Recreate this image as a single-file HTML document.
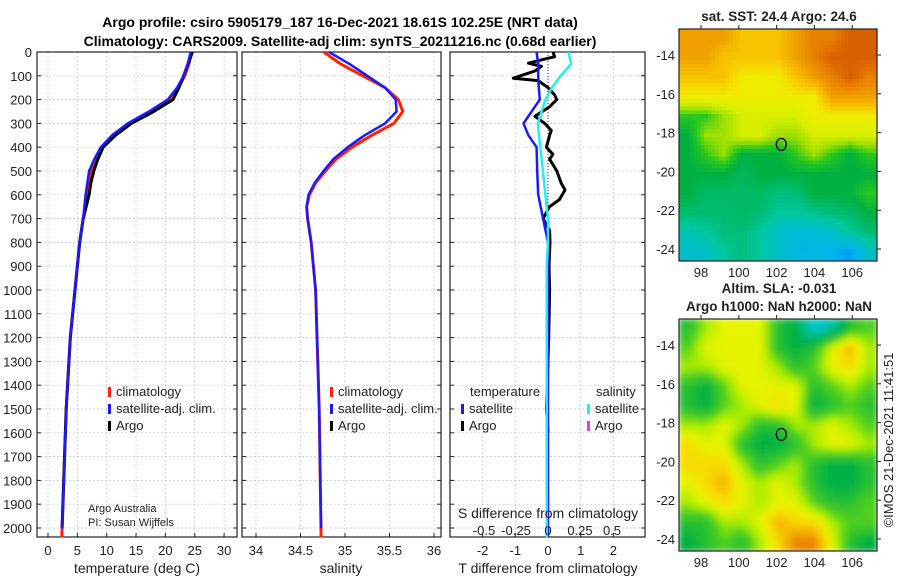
<!DOCTYPE html>
<html><head><meta charset="utf-8"><style>
body{margin:0;background:#fff}
svg{font-family:"Liberation Sans","DejaVu Sans",sans-serif;display:block}
</style></head><body>
<svg id="c" width="900" height="580" viewBox="0 0 900 580">
<text x="340" y="27" text-anchor="middle" font-size="14" font-weight="bold">Argo profile: csiro 5905179_187 16-Dec-2021 18.61S 102.25E (NRT data)</text>
<text x="340" y="46" text-anchor="middle" font-size="14" font-weight="bold">Climatology: CARS2009. Satellite-adj clim: synTS_20211216.nc (0.68d earlier)</text>
<g id="g"></g>
</svg>
<script>
const depthTicks=[0,100,200,300,400,500,600,700,800,900,1000,1100,1200,1300,1400,1500,1600,1700,1800,1900,2000];
const tempTicks=[0,5,10,15,20,25,30];
const salTicks=[34,34.5,35,35.5,36];
const tdiffTicks=[-2,-1,0,1,2];
const sdiffTicks=[-0.5,-0.25,0,0.25,0.5];
const sdiffLabels=["-0.5","-0.25","0","0.25","0.5"];
const climDepth=[0,50,100,150,200,250,300,350,400,450,500,600,700,800,1000,1200,1500,2000,2040];
const climTemp=[24.5,24.0,23.3,22.2,20.6,17.5,14.0,11.2,9.3,8.2,7.3,6.6,6.0,5.4,4.6,3.8,3.1,2.4,2.35];
const satTemp=[24.3,23.8,23.1,22.0,20.4,17.2,13.6,10.9,9.0,7.9,7.0,6.4,6.0,5.4,4.6,3.8,3.1,2.4,2.35];
const argoDepth=[0,40,100,150,200,250,300,350,400,450,500,550,600,650,700,800,1000,1200,1500,2000];
const argoTemp=[24.6,24.0,23.1,22.3,21.3,18.0,14.2,11.5,9.4,8.5,7.8,7.3,7.0,6.5,6.0,5.4,4.6,3.8,3.1,2.4];
const salDepth=[0,50,100,150,200,250,300,350,400,450,500,550,600,650,700,800,1000,1500,2000,2040];
const climSal=[34.76,34.95,35.2,35.45,35.6,35.65,35.55,35.3,35.08,34.9,34.78,34.67,34.6,34.57,34.58,34.62,34.67,34.71,34.73,34.73];
const satSal=[34.82,35.05,35.25,35.45,35.57,35.58,35.45,35.22,35.03,34.87,34.76,34.66,34.59,34.57,34.58,34.62,34.67,34.71,34.73,34.73];
const diffDepth=[0,50,100,150,200,250,300,350,400,500,600,700,800,900,1200,1600,2000,2040];
const satTdiff=[-0.35,-0.3,-0.3,-0.28,-0.25,-0.5,-0.75,-0.6,-0.35,-0.33,-0.3,-0.15,0,0,0,0,0,0];
const satSdiff=[0.16,0.18,0.1,0.03,-0.02,-0.05,-0.08,-0.07,-0.06,-0.04,-0.02,0,0,-0.01,-0.01,-0.01,-0.01,-0.01];
const argoDiffDepth=[0,20,30,47,60,80,110,120,150,180,200,230,270,300,330,350,400,430,450,500,550,580,620,650,700,750,800,900,1000,1200,1500,1600];
const argoTdiff=[0.16,0.2,-0.1,-0.6,-0.2,-0.4,-1.06,-0.3,0,0.2,0.27,0.05,-0.4,-0.1,0.1,0.05,-0.05,0.15,0.05,0.27,0.4,0.52,0.35,0.05,-0.15,0.05,0.06,0.03,0.05,0.02,-0.05,0];
const sstGrid=[
[6,6,6,5.5,5.5,5.5,6,6.5,6.5,7,7],
[6,6,5.5,5.5,5.5,5.5,6,6.5,7,7,7],
[5.5,5.5,5.5,5,5,5,5.5,6,6.5,7,6.5],
[5,5,5,5,5,5,5,5,6,6,6],
[3.5,3.5,4,4.5,4.5,4.5,4.5,5,5,5,5],
[3,4,4,4.5,4.5,4,4,4.5,4.5,4.5,4.5],
[3,3.5,4,3,3,3,3.5,4,3.5,3,3.5],
[3,3,3,2.7,3,3,3,3,3,3,3],
[3,2.6,2.6,2.6,2.6,2.4,2.4,3,3,3,3.5],
[2.5,2.5,2.5,2.6,2.5,2,2,2.2,2.4,2.6,3],
[1.8,2,2.4,2.4,2,1.5,1.3,1.3,1.5,2,2.5],
[1.5,1.5,2,2.4,2,1.5,1.2,1.2,1,0.8,1.5]];
const slaGrid=[
[3,4,4.5,4.5,4.5,3,2.5,1,1.5,3,3.5],
[3.5,4.5,4.5,4.5,4.5,3,2.5,3,4.5,5.5,4],
[4,4,4.5,4.5,4.5,4,3,3.5,4.5,5,4],
[3,2.5,3.5,4.5,4.5,4.5,4.5,3,3.5,4,3.5],
[3,2.5,3.5,4,4.5,5,4.5,2.5,3,3.5,3],
[4,4,4.5,4,3,3,4,4,4.5,4,3.5],
[5,4.5,4.5,3,2.5,2.5,3,4,4.5,4.5,4],
[5,5,5,4,3,3.5,4,3,2.5,2.5,3],
[4.5,5,5.5,4.5,4,4.5,4,3,2.5,2.5,3],
[4,4.5,5,4.5,4,4.5,4.5,3.5,3,3,3.5],
[3,3,4,4,4.5,5.5,5,5,4,3.5,3.5],
[2.5,3,3.5,3,4,5,6,6,4.5,3,2.5]];
const latTicks=[-14,-16,-18,-20,-22,-24];
const lonTicks=[98,100,102,104,106];
const argoLon=102.25, argoLat=-18.61;

const NS="http://www.w3.org/2000/svg";
const G=document.getElementById('g');
function mk(tag,attrs,parent){const e=document.createElementNS(NS,tag);for(const k in attrs)e.setAttribute(k,attrs[k]);(parent||G).appendChild(e);return e;}
function txt(x,y,s,size,anchor,parent){const t=mk('text',{x:x,y:y,'font-size':size||13,'text-anchor':anchor||'middle',fill:'#222'},parent);t.textContent=s;return t;}
const Y=d=>52+d*0.238;
const panels=[{x0:37,x1:237,f:v=>48+v*5.87},{x0:242,x1:441,f:v=>256+(v-34)*89},{x0:450,x1:645,f:v=>548+v*32.7}];
const sx=v=>548+v*128;
const yTop=52,yBot=537;

panels.forEach((p,i)=>{
  const fr=mk('g',{});
  
  
  depthTicks.forEach(d=>{mk('line',{x1:p.x0,x2:p.x1,y1:Y(d),y2:Y(d),stroke:'#b8c4dc','stroke-width':0.7,'stroke-dasharray':'2,2'},fr);
    mk('line',{x1:p.x0,x2:p.x0+4,y1:Y(d),y2:Y(d),stroke:'#222'},fr);mk('line',{x1:p.x1-4,x2:p.x1,y1:Y(d),y2:Y(d),stroke:'#222'},fr);});
  const ticks=i==0?tempTicks:i==1?salTicks:tdiffTicks;
  ticks.forEach(v=>{const x=p.f(v);mk('line',{x1:x,x2:x,y1:yTop,y2:yBot,stroke:'#b8c4dc','stroke-width':0.7,'stroke-dasharray':'2,2'},fr);
    mk('line',{x1:x,x2:x,y1:yBot-4,y2:yBot,stroke:'#222'},fr);
    const t=txt(x,555,String(v),13,'middle',fr);
    
    });
  mk('rect',{x:p.x0,y:yTop,width:p.x1-p.x0,height:yBot-yTop,fill:'none',stroke:'#222','stroke-width':1.2},fr);
});
depthTicks.forEach(d=>{const t=txt(32,Y(d)+5,String(d),13,'end');
  
  });
[['temperature (deg C)',137],['salinity',341],['T difference from climatology',548]].forEach(a=>{const t=txt(a[1],573,a[0],14);
  
  });
mk('line',{x1:548,x2:548,y1:yTop,y2:yBot,stroke:'#333','stroke-dasharray':'1,2'});

function line(xs,ds,fx,color,w,name){const pts=xs.map((v,i)=>fx(v).toFixed(1)+','+Y(ds[i]).toFixed(1)).join(' ');
  const e=mk('polyline',{points:pts,fill:'none',stroke:color,'stroke-width':w,'stroke-linejoin':'round'});
  
  }
line(climTemp,climDepth,panels[0].f,'#ff2000',3,'temp-climatology-line');
line(argoTemp,argoDepth,panels[0].f,'#000',3,'temp-argo-line');
line(satTemp,climDepth.slice(0,17).concat([2000,2000]),panels[0].f,'#1a1aff',2.5,'temp-satellite-line');
line(climSal,salDepth,panels[1].f,'#ff2000',3,'sal-climatology-line');
line(satSal,salDepth.slice(0,19).concat([2000]),panels[1].f,'#1a1aff',2.5,'sal-satellite-line');
line(argoTdiff,argoDiffDepth,panels[2].f,'#000',3,'argo-tdiff-line');
line(satTdiff,diffDepth,panels[2].f,'#1a1aff',2.5,'sat-tdiff-line');
line(satSdiff,diffDepth,sx,'#20f0f0',2.5,'sat-sdiff-line');

const st=txt(548,518,'S difference from climatology',14);


sdiffTicks.forEach((v,i)=>{const t=txt(sx(v),535,sdiffLabels[i],13);
  
  });

function legend(x,y,color,label,name){const g=mk('g',{});
  
  
  mk('rect',{x:x,y:y-9,width:3,height:10,fill:color},g);txt(x+8,y,label,13,'start',g);}
legend(108,396,'#ff2000','climatology','legend-climatology');
legend(108,413,'#1a1aff','satellite-adj. clim.','legend-satellite');
legend(108,430,'#000','Argo','legend-argo');
legend(330,396,'#ff2000','climatology','legend-climatology-2');
legend(330,413,'#1a1aff','satellite-adj. clim.','legend-satellite-2');
legend(330,430,'#000','Argo','legend-argo-2');
txt(470,396,'temperature',13,'start');
txt(596,396,'salinity',13,'start');
legend(461,413,'#1a1aff','satellite','legend-t-satellite');
legend(461,430,'#000','Argo','legend-t-argo');
legend(587,413,'#20f0f0','satellite','legend-s-satellite');
legend(587,430,'#e040e0','Argo','legend-s-argo');
txt(88,512,'Argo Australia',11,'start');
txt(88,526,'PI: Susan Wijffels',11,'start');

function lerp(a,b,t){return a.map((v,i)=>Math.round(v+(b[i]-v)*t));}
function cmap(stops,v){for(let i=0;i<stops.length-1;i++){if(v<=stops[i+1][0]){const t=(v-stops[i][0])/(stops[i+1][0]-stops[i][0]);const c=lerp(stops[i][1],stops[i+1][1],Math.max(0,t));return 'rgb('+c.join(',')+')';}}return 'rgb('+stops[stops.length-1][1].join(',')+')';}
const sstStops=[[0,[0,90,255]],[1,[0,180,240]],[2,[0,200,160]],[3,[0,176,64]],[3.5,[40,200,30]],[4,[160,224,0]],[4.5,[216,240,0]],[5,[240,236,0]],[5.5,[248,196,0]],[6,[240,160,0]],[6.5,[232,128,0]],[7,[216,96,0]]];
const slaStops=[[1,[0,200,210]],[2.5,[0,176,70]],[3.5,[80,208,30]],[4,[170,236,0]],[4.5,[230,244,0]],[5,[248,220,0]],[5.5,[244,176,0]],[6,[236,130,0]]];
const mapDefs=document.createElementNS(NS,'defs');document.getElementById('c').appendChild(mapDefs);
mapDefs.innerHTML='<filter id="bl" x="0" y="0" width="1" height="1"><feGaussianBlur stdDeviation="3" edgeMode="duplicate"/></filter><clipPath id="c2"><rect x="679" y="319" width="198" height="232"/></clipPath>';
// bilinear sample of a grid (rendering only)
function sample(grid,fr,fc){const nr=grid.length,nc=grid[0].length;
  fr=Math.max(0,Math.min(nr-1,fr));fc=Math.max(0,Math.min(nc-1,fc));
  const r0=Math.floor(fr),c0=Math.floor(fc),r1=Math.min(nr-1,r0+1),c1=Math.min(nc-1,c0+1),tr=fr-r0,tc=fc-c0;
  return grid[r0][c0]*(1-tr)*(1-tc)+grid[r0][c1]*(1-tr)*tc+grid[r1][c0]*tr*(1-tc)+grid[r1][c1]*tr*tc;}
function drawMap(grid,stops,x0,x1,y0,y1,latRef,name,blur,title,sub){
  const lon=v=>701+(v-98)*18.9;const lat=v=>latRef+(-14-v)*19.4;
  const g=mk('g',{});
  
  
  const cells=mk('g',blur?{filter:'url(#bl)','clip-path':'url(#c2)'}:{},g);
  const nr=grid.length*sub,nc=grid[0].length*sub;const cw=(x1-x0)/nc,ch=(y1-y0)/nr;
  for(let r=0;r<nr;r++)for(let c=0;c<nc;c++){
    const v=sample(grid,(r+0.5)/sub-0.5,(c+0.5)/sub-0.5);
    const e=mk('rect',{x:x0+c*cw,y:y0+r*ch,width:cw+0.5,height:ch+0.5,fill:cmap(stops,v)},cells);
    
    }
  mk('rect',{x:x0,y:y0,width:x1-x0,height:y1-y0,fill:'none',stroke:'#222','stroke-width':1.2},g);
  latTicks.forEach(v=>{mk('line',{x1:x1,x2:x1+4,y1:lat(v),y2:lat(v),stroke:'#222'},g);txt(x0-4,lat(v)+5,String(v),13,'end',g);});
  lonTicks.forEach(v=>{mk('line',{x1:lon(v),x2:lon(v),y1:y0-4,y2:y0,stroke:'#222'},g);txt(lon(v),y1+16,String(v),13,'middle',g);});
  mk('ellipse',{cx:lon(argoLon),cy:lat(argoLat),rx:5,ry:6,fill:'none',stroke:'#000','stroke-width':1.2},g);
  title.forEach((s,i)=>{const t=txt(779,y0-8-(title.length-1-i)*18,s,13.5,'middle',g);t.setAttribute('font-weight','bold');});
}
drawMap(sstGrid,sstStops,679,877,29,261,55,'sst-map',false,['sat. SST: 24.4 Argo: 24.6'],5);
drawMap(slaGrid,slaStops,679,877,319,551,345,'sla-map',true,['Altim. SLA: -0.031','Argo h1000: NaN h2000: NaN'],4);
const cr=txt(0,0,'©IMOS 21-Dec-2021 11:41:51',13,'middle');
cr.setAttribute('transform','translate(893,440) rotate(-90)');


</script>
</body></html>
